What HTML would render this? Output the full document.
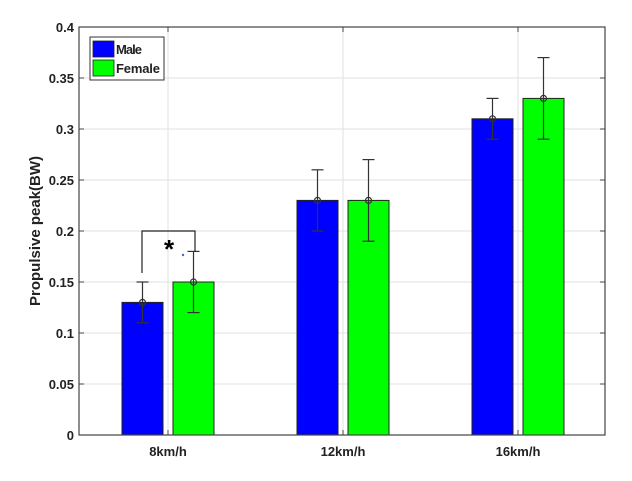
<!DOCTYPE html>
<html><head><meta charset="utf-8"><style>
body{margin:0;background:#fff;}
svg{font-family:"Liberation Sans",Arial,sans-serif;}
</style></head><body>
<svg width="632" height="476" viewBox="0 0 632 476">
<g id="grid"></g>
<g id="bars"></g>
<g id="axes"></g>
<text x="40" y="231" transform="rotate(-90 40 231)" text-anchor="middle" font-size="15" font-weight="bold" fill="#222">Propulsive peak(BW)</text>
<g>
<polyline points="142,273 142,231 195,231 195,252" fill="none" stroke="#222" stroke-width="1.2"/>
<text x="169" y="258" text-anchor="middle" font-size="26" font-weight="bold" fill="#000">*</text>
<circle cx="183" cy="255" r="1.2" fill="#4466cc"/>
</g>
<g>
<rect x="90" y="37" width="74" height="43" fill="#fff" stroke="#333" stroke-width="1"/>
<rect x="93" y="41" width="21" height="16" fill="#0000ff" stroke="#222" stroke-width="0.8"/>
<text x="116" y="54" font-size="13" font-weight="bold" fill="#222" textLength="26">Male</text>
<rect x="93" y="60" width="21" height="16" fill="#00ff00" stroke="#222" stroke-width="0.8"/>
<text x="116" y="73" font-size="13" font-weight="bold" fill="#222" textLength="44">Female</text>
</g>
</svg>
<script>
const categories=["8km/h","12km/h","16km/h"];
const maleValues=[0.13,0.23,0.31];
const femaleValues=[0.15,0.23,0.33];
const maleLow=[0.11,0.20,0.29];
const maleHigh=[0.15,0.26,0.33];
const femaleLow=[0.12,0.19,0.29];
const femaleHigh=[0.18,0.27,0.37];
const yTicks=[0,0.05,0.1,0.15,0.2,0.25,0.3,0.35,0.4];
const yTickLabels=["0","0.05","0.1","0.15","0.2","0.25","0.3","0.35","0.4"];

const L=79,R=605,T=27,B=435,ns="http://www.w3.org/2000/svg";
const y=v=>B-(v/0.4)*(B-T);
const xc=i=>168+i*175;
function mk(tag,attrs,parent,txt){const e=document.createElementNS(ns,tag);for(const k in attrs)e.setAttribute(k,attrs[k]);if(txt!==undefined)e.textContent=txt;parent.appendChild(e);return e;}
const grid=document.getElementById('grid'),bars=document.getElementById('bars'),axes=document.getElementById('axes');
yTicks.forEach((t,i)=>{
  const g=mk('line',{x1:L,x2:R,y1:y(t),y2:y(t),stroke:'#e2e2e2','stroke-width':1},grid);
  
  
  const lb=mk('text',{x:L-5,y:y(t)+5,'text-anchor':'end','font-size':13,'font-weight':'bold',fill:'#222'},axes,yTickLabels[i]);
  
  
  mk('line',{x1:L,x2:L+5,y1:y(t),y2:y(t),stroke:'#444'},axes);
  mk('line',{x1:R,x2:R-5,y1:y(t),y2:y(t),stroke:'#444'},axes);
});
categories.forEach((c,i)=>{
  const g=mk('line',{x1:xc(i),x2:xc(i),y1:T,y2:B,stroke:'#e2e2e2','stroke-width':1},grid);
  
  
  const lb=mk('text',{x:xc(i),y:B+21,'text-anchor':'middle','font-size':13,'font-weight':'bold',fill:'#222'},axes,c);
  
  
  mk('line',{x1:xc(i),x2:xc(i),y1:B,y2:B-5,stroke:'#444'},axes);
  mk('line',{x1:xc(i),x2:xc(i),y1:T,y2:T+5,stroke:'#444'},axes);
  const series=[[maleValues,maleLow,maleHigh,'#0000ff',-46,'male'],[femaleValues,femaleLow,femaleHigh,'#00ff00',5,'female']];
  series.forEach(s=>{
    const x0=xc(i)+s[4],w=41,v=s[0][i];
    const r=mk('rect',{x:x0,y:y(v),width:w,height:B-y(v),fill:s[3],stroke:'#222','stroke-width':1},bars);
    
    
    const cx=x0+w/2;
    const eb=mk('g',{stroke:'#333','stroke-width':1.2,fill:'none'},bars);
    
    
    mk('line',{x1:cx,x2:cx,y1:y(s[1][i]),y2:y(s[2][i])},eb);
    mk('line',{x1:cx-6,x2:cx+6,y1:y(s[1][i]),y2:y(s[1][i])},eb);
    mk('line',{x1:cx-6,x2:cx+6,y1:y(s[2][i]),y2:y(s[2][i])},eb);
    mk('circle',{cx:cx,cy:y(v),r:3},eb);
  });
});
mk('rect',{x:L,y:T,width:R-L,height:B-T,fill:'none',stroke:'#444','stroke-width':1.2},axes);
</script>
</body></html>
